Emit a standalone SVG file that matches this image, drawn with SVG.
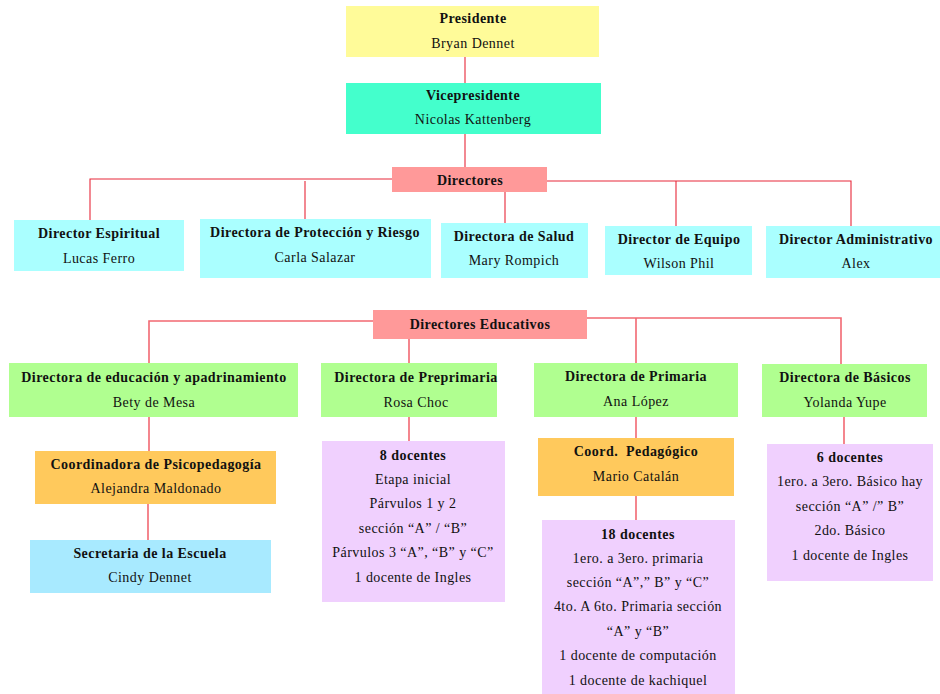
<svg xmlns="http://www.w3.org/2000/svg" width="940" height="694" viewBox="0 0 940 694">
<style>
text{font-family:"Liberation Serif","Times New Roman",serif;font-size:14px;letter-spacing:0.45px;fill:#111;text-anchor:middle}
.b{font-weight:bold}
.ln{stroke:#e8283a;stroke-width:1.1;fill:none}
.ln2{stroke:#f26872;stroke-width:1.6;fill:none}
.yel{fill:#fffb99}.tea{fill:#44ffcc}.pink{fill:#ff9999}.cy{fill:#aaffff}
.grn{fill:#b0ff90}.org{fill:#ffc95c}.blu{fill:#a8eaff}.lav{fill:#f0d0fe}
</style>
<rect width="940" height="694" fill="#fff"/>
<g id="connectors">
<path class="ln" d="M465 57V83M465 134V167M392 179H90V220M305 181V219M547 181H851V226M505 192V223M676 181V226"/>
<path class="ln2" d="M373 321H149V363M587 318H841V364M409 339V363M636 318V363M149 417V451M148 504V540M409 417V441M636 417V438M636 496V520M844 417V444"/>
</g>
<g id="presidente"><rect class="yel" x="346" y="6" width="253" height="51"/><text class="b" x="473" y="23">Presidente</text><text x="473" y="48">Bryan Dennet</text></g>
<g id="vicepresidente"><rect class="tea" x="346" y="83" width="255" height="51"/><text class="b" x="473" y="100">Vicepresidente</text><text x="473" y="124">Nicolas Kattenberg</text></g>
<g id="directores"><rect class="pink" x="392" y="167" width="155" height="25"/><text class="b" x="470" y="185">Directores</text></g>
<g id="dir-espiritual"><rect class="cy" x="14" y="220" width="170" height="51"/><text class="b" x="99" y="238">Director Espiritual</text><text x="99" y="263">Lucas Ferro</text></g>
<g id="dir-proteccion"><rect class="cy" x="200" y="219" width="231" height="59"/><text class="b" x="315" y="237">Directora de Protección y Riesgo</text><text x="315" y="262">Carla Salazar</text></g>
<g id="dir-salud"><rect class="cy" x="441" y="223" width="147" height="55"/><text class="b" x="514" y="241">Directora de Salud</text><text x="514" y="265">Mary Rompich</text></g>
<g id="dir-equipo"><rect class="cy" x="605" y="226" width="147" height="49"/><text class="b" x="679" y="244">Director de Equipo</text><text x="679" y="268">Wilson Phil</text></g>
<g id="dir-admin"><rect class="cy" x="766" y="226" width="174" height="52"/><text class="b" x="856" y="244">Director Administrativo</text><text x="856" y="268">Alex</text></g>
<g id="directores-educativos"><rect class="pink" x="373" y="310" width="214" height="29"/><text class="b" x="480" y="329">Directores Educativos</text></g>
<g id="dir-educacion"><rect class="grn" x="9" y="363" width="289" height="54"/><text class="b" x="154" y="382">Directora de educación y apadrinamiento</text><text x="154" y="407">Bety de Mesa</text></g>
<g id="dir-preprimaria"><rect class="grn" x="321" y="363" width="176" height="54"/><text class="b" x="416" y="382">Directora de Preprimaria</text><text x="416" y="407">Rosa Choc</text></g>
<g id="dir-primaria"><rect class="grn" x="534" y="363" width="204" height="54"/><text class="b" x="636" y="381">Directora de Primaria</text><text x="636" y="406">Ana López</text></g>
<g id="dir-basicos"><rect class="grn" x="762" y="364" width="165" height="53"/><text class="b" x="845" y="382">Directora de Básicos</text><text x="845" y="407">Yolanda Yupe</text></g>
<g id="coord-psico"><rect class="org" x="35" y="451" width="241" height="53"/><text class="b" x="156" y="469">Coordinadora de Psicopedagogía</text><text x="156" y="493">Alejandra Maldonado</text></g>
<g id="secretaria"><rect class="blu" x="30" y="540" width="241" height="53"/><text class="b" x="150" y="558">Secretaria de la Escuela</text><text x="150" y="582">Cindy Dennet</text></g>
<g id="docentes-pre"><rect class="lav" x="322" y="441" width="183" height="161"/>
<text class="b" x="413" y="460">8 docentes</text><text x="413" y="484">Etapa inicial</text><text x="413" y="508">Párvulos 1 y 2</text><text x="413" y="533">sección “A” / “B”</text><text x="413" y="557">Párvulos 3 “A”, “B” y “C”</text><text x="413" y="582">1 docente de Ingles</text></g>
<g id="coord-pedagogico"><rect class="org" x="538" y="438" width="196" height="58"/><text class="b" x="636" y="456" xml:space="preserve">Coord.  Pedagógico</text><text x="636" y="481">Mario Catalán</text></g>
<g id="docentes-prim"><rect class="lav" x="542" y="520" width="193" height="174"/>
<text class="b" x="638" y="539">18 docentes</text><text x="638" y="563">1ero. a 3ero. primaria</text><text x="638" y="587">sección “A”,” B” y “C”</text><text x="638" y="611">4to. A 6to. Primaria sección</text><text x="638" y="636">“A” y “B”</text><text x="638" y="660">1 docente de computación</text><text x="638" y="685">1 docente de kachiquel</text></g>
<g id="docentes-bas"><rect class="lav" x="767" y="444" width="166" height="137"/>
<text class="b" x="850" y="462">6 docentes</text><text x="850" y="486">1ero. a 3ero. Básico hay</text><text x="850" y="511">sección “A” /” B”</text><text x="850" y="535">2do. Básico</text><text x="850" y="560">1 docente de Ingles</text></g>
</svg>
